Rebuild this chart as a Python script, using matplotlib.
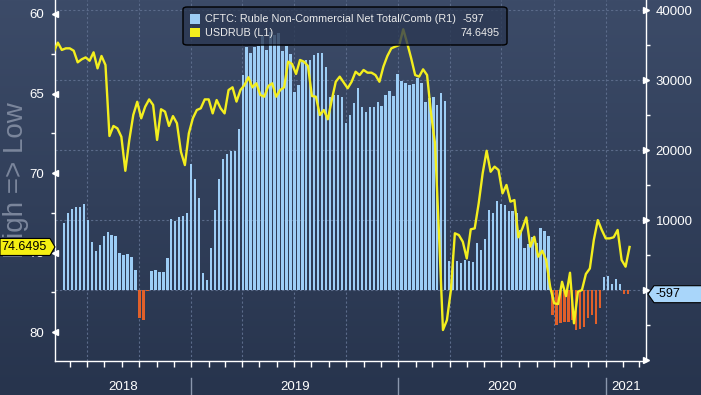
import matplotlib
matplotlib.use('Agg')
import matplotlib.pyplot as plt
import matplotlib.dates as mdates
from matplotlib.patches import Polygon, FancyBboxPatch, Rectangle
from matplotlib.colors import LinearSegmentedColormap
from matplotlib.ticker import MultipleLocator, FuncFormatter, NullFormatter
import numpy as np
import pandas as pd

# CFTC ruble non-commercial net positions, weekly (contracts)
cftc_net = [9530, 10950, 11520, 11810, 11810, 12240, 10000, 6810, 5570, 6380, 7670, 8240,
            7810, 7670, 5240, 4950, 5100, 4670, 2860, -3950, -4290, -150, 2710, 2860,
            2570, 2570, 4620, 10140, 9860, 10430, 10570, 11000, 18000, 15860, 13140, 2430,
            1430, 5950, 11430, 15860, 18670, 19430, 19860, 19860, 23000, 30700, 34700, 33900,
            34700, 34900, 36300, 34300, 36900, 36400, 36700, 34100, 34900, 33700, 28300, 29300,
            32600, 32900, 32900, 33600, 33900, 33800, 31900, 27600, 27900, 27900, 27600, 23900,
            25000, 26700, 28900, 26200, 25400, 26200, 26100, 26900, 26300, 27800, 28500, 27700,
            30800, 29800, 29600, 29300, 29400, 30300, 29600, 26900, 27500, 27600, 26400, 28100,
            27000, 4100, 5000, 4200, 3900, 4300, 4200, 4000, 6700, 5700,
            7300, 11400, 11000, 12700, 12300, 12100, 11300, 11300, 11000, 8600, 6000, 6600,
            7600, 6700, 8800, 8400, 7700, -3600, -5000, -4700, -4500, -4500, -4300, -5700,
            -5500, -5300, -4000, -3600, -4900, -2600, 1810, 2000, 810, 1570, 810, -520, -597]
cftc_last_date = '2021-02-09'

# USDRUB weekly close
usdrub = [62.37, 61.80, 62.26, 62.16, 62.16, 62.31, 63.04, 62.85, 62.73, 62.94, 62.41, 63.42,
          62.64, 63.21, 67.67, 67.04, 67.19, 67.72, 69.86, 67.92, 66.35, 65.52, 66.56, 65.83,
          65.37, 65.72, 67.92, 65.99, 66.14, 67.04, 66.42, 66.87, 68.66, 69.50, 67.50, 66.56,
          66.04, 65.93, 65.37, 65.37, 66.25, 65.41, 65.93, 66.25, 64.78, 64.61, 65.51, 64.78,
          64.47, 63.98, 64.61, 64.36, 65.09, 65.20, 64.53, 64.36, 65.20, 64.78, 64.61, 63.00,
          63.14, 63.77, 62.89, 63.00, 63.27, 65.16, 65.20, 66.35, 66.04, 66.62, 65.41, 64.26,
          63.94, 64.30, 64.67, 64.26, 63.63, 63.84, 63.52, 63.69, 63.69, 63.84, 64.26, 63.31,
          62.64, 62.16, 62.05, 61.95, 60.96, 61.84, 62.79, 63.84, 63.94, 63.48, 63.84, 66.25,
          68.13, 73.79, 79.87, 79.25, 77.36, 73.79, 73.90, 74.32, 75.37, 73.54, 73.48, 71.91,
          70.02, 68.60, 69.92, 69.60, 69.81, 71.28, 70.75, 71.80, 71.70, 74.04, 73.48, 72.79,
          74.63, 74.01, 75.26, 74.89, 75.47, 77.15, 78.19, 78.24, 76.84, 77.74, 76.27, 79.45,
          77.46, 77.36, 76.35, 76.00, 74.21, 72.96, 73.58, 74.11, 74.11, 74.04, 73.58, 75.47,
          75.89, 74.6495]
usdrub_last_date = '2021-02-12'

years = [2018, 2019, 2020, 2021]
cftc_name = 'CFTC: Ruble Non-Commercial Net Total/Comb (R1)'
usdrub_name = 'USDRUB (L1)'

plt.rcParams['font.family'] = ['Liberation Sans', 'DejaVu Sans']

W, H = 701, 395
fig = plt.figure(figsize=(W / 100, H / 100), dpi=100)
fig.patch.set_facecolor('#2a3751')

# dark blue gradient background
bg = fig.add_axes([0, 0, 1, 1], zorder=-10)
grad = np.linspace(0, 1, 256).reshape(-1, 1)
cmap = LinearSegmentedColormap.from_list('bg', ['#3c4b68', '#27344d'])
bg.imshow(grad, aspect='auto', cmap=cmap, extent=[0, 1, 0, 1], origin='upper')
bg.axis('off')

ax = fig.add_axes([55 / W, 1 - 361 / H, 591 / W, 361 / H])
axr = ax.twinx()
ax.set_zorder(axr.get_zorder() + 1)
ax.patch.set_visible(False)
axr.patch.set_visible(False)

bar_dates = pd.date_range(end=cftc_last_date, periods=len(cftc_net), freq='7D')
line_dates = pd.date_range(end=usdrub_last_date, periods=len(usdrub), freq='7D')
vals = np.array(cftc_net)
bar_colors = np.where(vals >= 0, '#9dcdf5', '#e1602a')
axr.bar(bar_dates, vals, width=4.3, color=bar_colors, edgecolor='none', zorder=2)
ax.plot(line_dates, usdrub, color='#f3ee1e', lw=1.7, zorder=3)

x0, x1 = pd.Timestamp('2018-05-06'), pd.Timestamp('2021-03-13')
ax.set_xlim(x0, x1)
ax.set_ylim(81.82, 59.12)
axr.set_ylim(-10140, 41430)

# grid
grid_kw = dict(color='#5b6b8a', lw=0.8, linestyle=(0, (2, 2)), zorder=1)
for q in pd.date_range('2018-04-01', '2021-03-31', freq='QS'):
    axr.axvline(q, **grid_kw)
for g in range(0, 40001, 10000):
    axr.axhline(g, **grid_kw)

# left axis
ax.yaxis.set_major_locator(MultipleLocator(5))
ax.yaxis.set_minor_locator(MultipleLocator(2.5))
ax.yaxis.set_major_formatter(FuncFormatter(lambda v, p: f'{v:.0f}'))
ax.tick_params(axis='y', which='major', colors='white', labelsize=9.5, length=5, width=1, pad=3)
ax.tick_params(axis='y', which='minor', colors='white', length=3, width=1)
for t in ax.yaxis.get_major_ticks():
    t.tick1line.set_marker('<')
    t.tick1line.set_markersize(5)

# right axis
axr.yaxis.set_major_locator(MultipleLocator(10000))
axr.yaxis.set_minor_locator(MultipleLocator(5000))
axr.yaxis.set_major_formatter(FuncFormatter(lambda v, p: f'{v:.0f}' if v > 0 else ''))
axr.tick_params(axis='y', which='major', colors='white', labelsize=9.5, length=5, width=1, pad=2)
axr.tick_params(axis='y', which='minor', colors='white', length=3, width=1)
for t in axr.yaxis.get_major_ticks():
    t.tick2line.set_marker('>')
    t.tick2line.set_markersize(5)

# x axis: quarter and month ticks, no labels
ax.xaxis.set_major_locator(mdates.MonthLocator(bymonth=[1, 4, 7, 10]))
ax.xaxis.set_minor_locator(mdates.MonthLocator())
ax.xaxis.set_major_formatter(NullFormatter())
ax.tick_params(axis='x', which='both', colors='white', length=4, width=1)

for a in (ax, axr):
    for s in a.spines.values():
        s.set_visible(False)
for s in ('left', 'right', 'bottom'):
    ax.spines[s].set_visible(True)
    ax.spines[s].set_color('white')
    ax.spines[s].set_linewidth(1)

# year labels and separators under the axis
xt = ax.get_xaxis_transform()
for yr in years:
    a = max(pd.Timestamp(f'{yr}-01-01'), x0)
    b = min(pd.Timestamp(f'{yr + 1}-01-01'), x1)
    mid = a + (b - a) / 2
    ax.text(mid, -0.072, str(yr), transform=xt, ha='center', va='center',
            color='white', fontsize=9.5)
    if pd.Timestamp(f'{yr}-01-01') > x0:
        ax.plot([pd.Timestamp(f'{yr}-01-01')] * 2, [-0.047, -0.095], transform=xt,
                color='#8a97ad', lw=1, clip_on=False)

# rotated left caption
fig.text(16 / W, 1 - 180 / H, 'High => Low', rotation=90, ha='center', va='center',
         color='#7b869c', fontsize=20)


def fx(px):
    return px / W


def fy(py):
    return 1 - py / H


# legend box
leg = FancyBboxPatch((fx(183), fy(45)), fx(507) - fx(183), fy(7) - fy(45),
                     boxstyle='round,pad=0,rounding_size=0.006', transform=fig.transFigure,
                     fc=(0.17, 0.22, 0.32, 0.78), ec='black', lw=1, zorder=5)
fig.patches.append(leg)
fig.patches.append(Rectangle((fx(190), fy(24)), fx(200) - fx(190), fy(14) - fy(24),
                             transform=fig.transFigure, fc='#9dcdf5', ec='none', zorder=6))
fig.patches.append(Rectangle((fx(190), fy(37)), fx(200) - fx(190), fy(28) - fy(37),
                             transform=fig.transFigure, fc='#f3ee1e', ec='none', zorder=6))
fig.text(fx(205), fy(19.5), cftc_name, color='#ececec', fontsize=7.8, va='center', zorder=7)
fig.text(fx(205), fy(33), usdrub_name, color='#ececec', fontsize=7.8, va='center', zorder=7)
fig.text(fx(463), fy(19.5), f'{cftc_net[-1]}', color='#ececec', fontsize=7.8, va='center', zorder=7)
fig.text(fx(500), fy(33), f'{usdrub[-1]:.4f}', color='#ececec', fontsize=7.8, va='center',
         ha='right', zorder=7)

# last value tags
fig.canvas.draw()
inv = fig.transFigure.inverted()
yl = inv.transform(ax.transData.transform((mdates.date2num(x0), usdrub[-1])))[1]
yr_ = inv.transform(axr.transData.transform((mdates.date2num(x0), cftc_net[-1])))[1]
hh = 8.5 / H
tag_l = Polygon([(0, yl + hh), (fx(50), yl + hh), (fx(55), yl), (fx(50), yl - hh), (0, yl - hh)],
                closed=True, transform=fig.transFigure, fc='#f5ef12', ec='black', lw=0.8, zorder=8)
fig.patches.append(tag_l)
fig.text(fx(24), yl, f'{usdrub[-1]:.4f}', ha='center', va='center', fontsize=9,
         color='black', zorder=9)
tag_r = Polygon([(fx(648), yr_), (fx(654), yr_ + hh), (fx(702), yr_ + hh), (fx(702), yr_ - hh),
                 (fx(654), yr_ - hh)], closed=True, transform=fig.transFigure,
                fc='#a9d6fa', ec='black', lw=0.8, zorder=8)
fig.patches.append(tag_r)
fig.text(fx(656), yr_, f'{cftc_net[-1]}', ha='left', va='center', fontsize=9,
         color='black', zorder=9)

fig.savefig('out.png', dpi=100, facecolor=fig.get_facecolor())
